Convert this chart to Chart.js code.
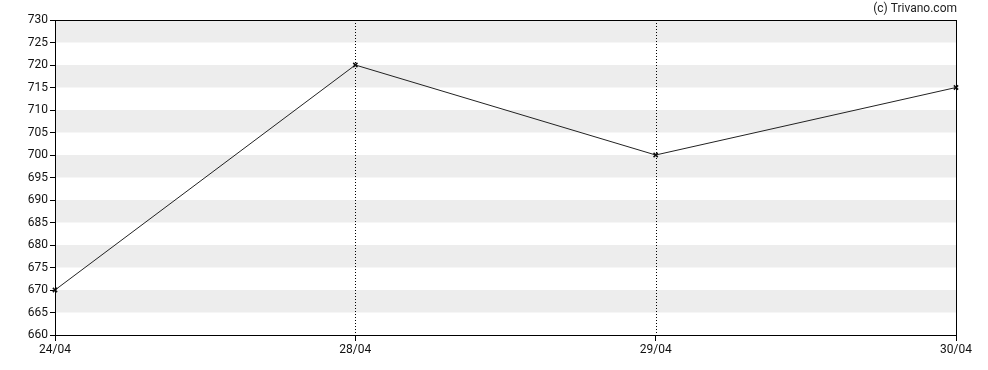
<!DOCTYPE html>
<html>
<head>
<meta charset="utf-8">
<script src="https://cdn.jsdelivr.net/npm/chart.js@4"></script>
<style>
html,body{margin:0;padding:0;background:#fff;}
canvas{display:block;}
</style>
</head>
<body>
<canvas id="c" width="988" height="370"></canvas>
<script>
const categories = ['24/04', '28/04', '29/04', '30/04'];
const prices = [670, 720, 700, 715];
const yMin = 660, yMax = 730, yStep = 5;
const watermark = '(c) Trivano.com';

const FONT = 'Roboto, "Liberation Sans", Arial, sans-serif';

const decor = {
  id: 'decor',
  beforeDatasetsDraw(chart) {
    const {ctx, chartArea: a, scales: {x, y}} = chart;
    ctx.save();
    ctx.fillStyle = '#ededed';
    let i = 0;
    for (let v = yMax; v > yMin; v -= yStep, i++) {
      if (i % 2 === 0) {
        const t = y.getPixelForValue(v), b = y.getPixelForValue(v - yStep);
        ctx.fillRect(a.left, t, a.right - a.left, b - t);
      }
    }
    ctx.strokeStyle = '#000';
    ctx.lineWidth = 1;
    ctx.setLineDash([1, 2]);
    for (let k = 1; k < categories.length - 1; k++) {
      const px = Math.round(x.getPixelForValue(k)) + 0.5;
      ctx.beginPath();
      ctx.moveTo(px, a.top);
      ctx.lineTo(px, a.bottom);
      ctx.stroke();
    }
    ctx.restore();
  },
  afterDraw(chart) {
    const {ctx, chartArea: a} = chart;
    ctx.save();
    ctx.strokeStyle = '#000';
    ctx.lineWidth = 1;
    ctx.strokeRect(Math.round(a.left) + 0.5, Math.round(a.top) + 0.5,
                   Math.round(a.right - a.left), Math.round(a.bottom - a.top));
    ctx.fillStyle = '#222';
    ctx.font = '12px ' + FONT;
    ctx.textAlign = 'right';
    ctx.textBaseline = 'middle';
    ctx.fillText(watermark, a.right + 1, 9);
    ctx.restore();
  }
};

new Chart(document.getElementById('c'), {
  type: 'line',
  data: {
    labels: categories,
    datasets: [{
      data: prices,
      borderColor: '#222',
      borderWidth: 1,
      pointStyle: 'crossRot',
      pointRadius: 3,
      pointBorderColor: '#111',
      pointBorderWidth: 1.5,
      tension: 0,
      clip: false
    }]
  },
  options: {
    responsive: false,
    animation: false,
    events: [],
    layout: {padding: {top: 20, right: 32, left: 0, bottom: 0}},
    plugins: {legend: {display: false}, tooltip: {enabled: false}, title: {display: false}},
    scales: {
      x: {
        type: 'category',
        offset: false,
        grid: {drawOnChartArea: false, drawTicks: true, tickLength: 6, tickColor: '#000'},
        border: {display: true, color: '#000', width: 1},
        ticks: {color: '#111', font: {family: FONT, size: 12}, padding: 2, maxRotation: 0, autoSkip: false},
        afterFit(s) { s.height = 35; }
      },
      y: {
        min: yMin, max: yMax,
        grid: {drawOnChartArea: false, drawTicks: true, tickLength: 5, tickColor: '#000'},
        border: {display: true, color: '#000', width: 1},
        ticks: {stepSize: yStep, color: '#111', font: {family: FONT, size: 12}, padding: 2},
        afterFit(s) { s.width = 55; }
      }
    }
  },
  plugins: [decor]
});
</script>
</body>
</html>
